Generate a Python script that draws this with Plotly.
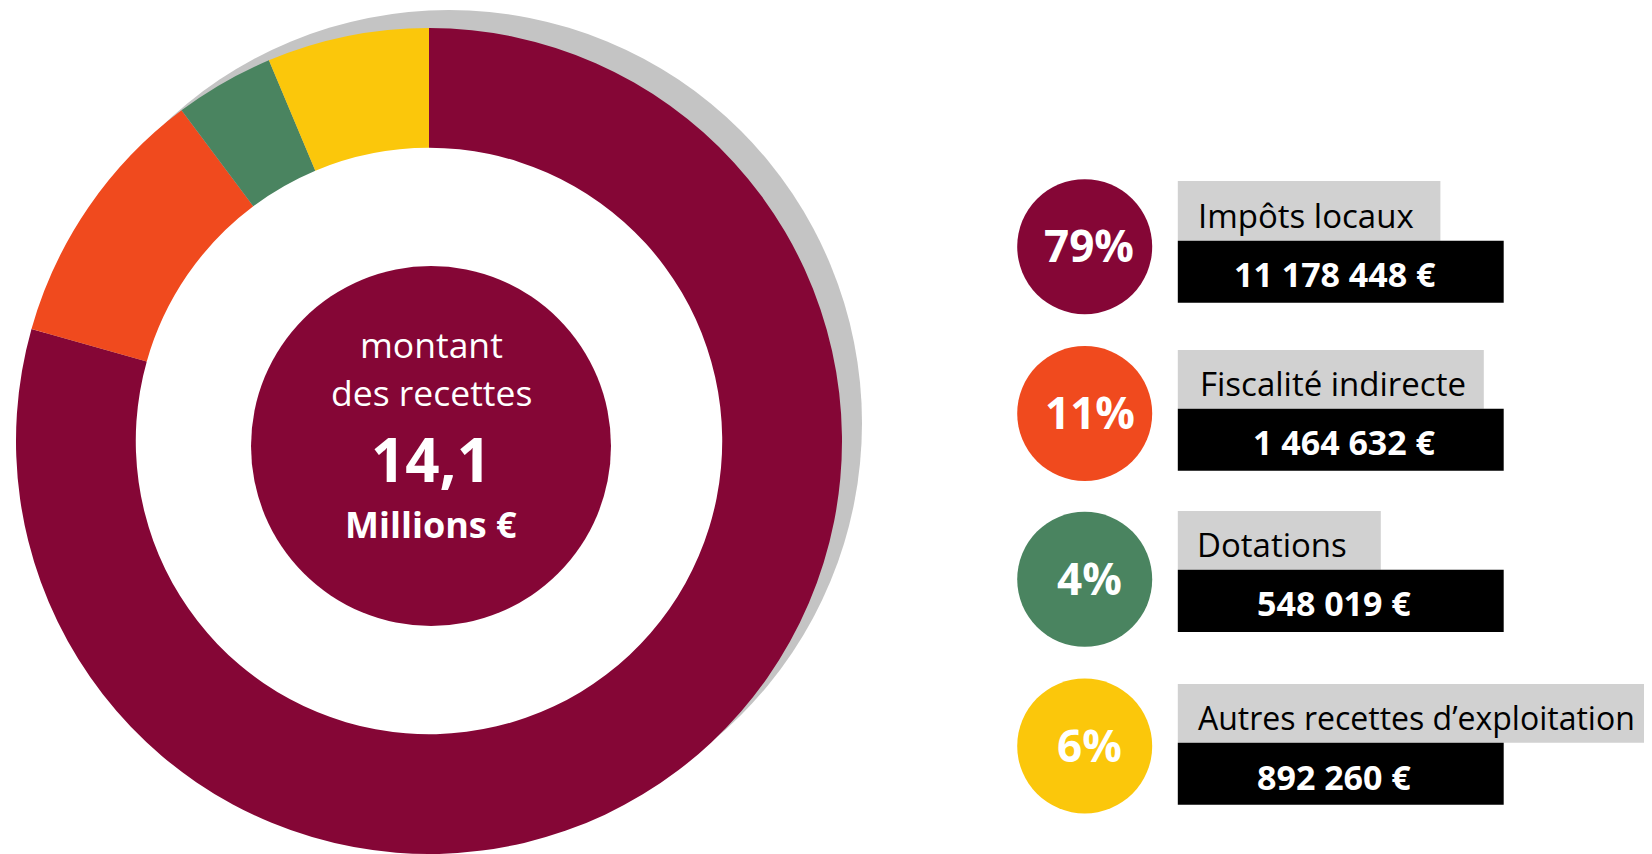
import plotly.graph_objects as go

# ---- data ----
categories = ["Impôts locaux", "Fiscalité indirecte", "Dotations", "Autres recettes d’exploitation"]
values = [11178448, 1464632, 548019, 892260]
pct_labels = ["79%", "11%", "4%", "6%"]
colors = ["#850636", "#f04a1e", "#4a8460", "#fbc70b"]
center_lines = ["montant", "des recettes"]
center_unit = "Millions €"

# ---- layout constants (page pixels) ----
PAGE_W, PAGE_H = 1652, 854
OFF = 8  # default body margin of the html page
W, H = PAGE_W - OFF, PAGE_H - OFF
FONT = "Open Sans"


def dom(cx, cy, r):
    cx, cy = cx - OFF, cy - OFF
    x0, x1 = (cx - r) / W, (cx + r) / W
    y0, y1 = (H - cy - r) / H, (H - cy + r) / H
    return dict(x=[max(0, x0), min(1, x1)], y=[max(0, y0), min(1, y1)])


total = sum(values)
total_label = f"{total / 1e6:.1f}".replace(".", ",")
value_labels = [f"{v:,}".replace(",", " ") + " €" for v in values]

DCX, DCY, DR = 429, 441, 413
HOLE = 0.71

fig = go.Figure()

# shadow
fig.add_trace(go.Pie(values=[total], marker=dict(colors=["#c4c4c4"]), textinfo="none",
                     hoverinfo="skip", sort=False, showlegend=False,
                     domain=dom(DCX + 20, DCY - 18, DR)))
# white disc hiding shadow inside the hole
fig.add_trace(go.Pie(values=[total], marker=dict(colors=["#ffffff"]), textinfo="none",
                     hoverinfo="skip", sort=False, showlegend=False,
                     domain=dom(DCX, DCY, DR * HOLE + 1)))
# donut
fig.add_trace(go.Pie(labels=categories, values=values, marker=dict(colors=colors),
                     hole=HOLE, sort=False, direction="clockwise", rotation=0,
                     textinfo="none", hoverinfo="label+value", showlegend=False,
                     domain=dom(DCX, DCY, DR)))
# center disc
fig.add_trace(go.Pie(values=[total], marker=dict(colors=[colors[0]]), textinfo="none",
                     hoverinfo="skip", sort=False, showlegend=False,
                     domain=dom(431, 446, 180)))

# legend rows
row_circle_y = [246.7, 413.5, 579.3, 746.0]
gray_top = [181, 350, 511, 684]
black_top = [240.7, 408.7, 569.7, 742.7]
black_bot = [302.7, 470.7, 632.0, 804.7]
gray_right = [1438.4, 1481.8, 1378.8, 1652]
label_base = [226.7, 395.0, 556.0, 728.3]
label_x = [1196, 1198, 1195, 1196]
label_size = [33, 33, 33, 32]
value_base = [286.0, 454.0, 615.0, 788.3]
value_x = [1335, 1344, 1334, 1334]
pct_base = [260.7, 427.3, 593.3, 760.7]
pct_x = [1089, 1090, 1089, 1089]

fig.add_trace(go.Scatter(x=[1084.7] * 4, y=row_circle_y, mode="markers",
                         marker=dict(size=135, color=colors, line=dict(width=0)),
                         hoverinfo="skip", showlegend=False))

shapes = []
annotations = []
for i in range(4):
    shapes.append(dict(type="rect", xref="x", yref="y", x0=1177.8, x1=gray_right[i] + 2,
                       y0=gray_top[i], y1=black_top[i], fillcolor="#d1d1d1",
                       line=dict(width=0), layer="below"))
    shapes.append(dict(type="rect", xref="x", yref="y", x0=1177.8, x1=1503.7,
                       y0=black_top[i], y1=black_bot[i], fillcolor="#000000",
                       line=dict(width=0), layer="below"))
    annotations.append(dict(x=label_x[i], y=label_base[i] - 0.35 * label_size[i], xref="x", yref="y",
                            text=categories[i], showarrow=False, xanchor="left", yanchor="middle",
                            font=dict(family=FONT, size=label_size[i], color="#000000")))
    annotations.append(dict(x=value_x[i], y=value_base[i] - 11.8, xref="x", yref="y",
                            text=value_labels[i], showarrow=False, xanchor="center", yanchor="middle",
                            font=dict(family=FONT, size=34, color="#ffffff", weight="bold")))
    annotations.append(dict(x=pct_x[i], y=pct_base[i] - 15.4, xref="x", yref="y",
                            text=pct_labels[i], showarrow=False, xanchor="center", yanchor="middle",
                            font=dict(family=FONT, size=44, color="#ffffff", weight="bold")))

annotations += [
    dict(x=431, y=344, xref="x", yref="y", text=center_lines[0], showarrow=False,
         font=dict(family=FONT, size=35.5, color="#ffffff")),
    dict(x=431, y=392, xref="x", yref="y", text=center_lines[1], showarrow=False,
         font=dict(family=FONT, size=35.5, color="#ffffff")),
    dict(x=431, y=459, xref="x", yref="y", text=total_label, showarrow=False,
         font=dict(family=FONT, size=60, color="#ffffff", weight="bold")),
    dict(x=431, y=524, xref="x", yref="y", text=center_unit, showarrow=False,
         font=dict(family=FONT, size=36, color="#ffffff", weight="bold")),
]

fig.update_layout(
    width=W, height=H, autosize=False,
    margin=dict(l=0, r=0, t=0, b=0, pad=0),
    paper_bgcolor="#ffffff", plot_bgcolor="rgba(0,0,0,0)",
    xaxis=dict(range=[OFF, PAGE_W], visible=False, fixedrange=True, domain=[0, 1]),
    yaxis=dict(range=[PAGE_H, OFF], visible=False, fixedrange=True, domain=[0, 1]),
    shapes=shapes, annotations=annotations, showlegend=False,
)

fig.write_html("out.html", config={"displayModeBar": False})
